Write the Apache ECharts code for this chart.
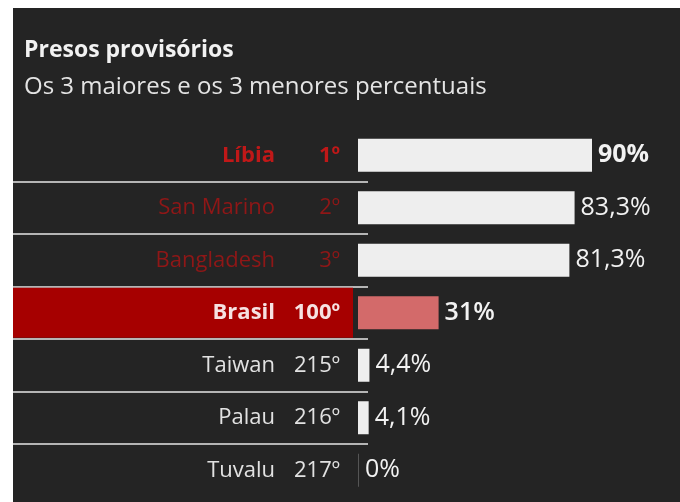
<!DOCTYPE html>
<html>
<head>
<meta charset="utf-8">
<script src="https://cdn.jsdelivr.net/npm/echarts@6/dist/echarts.min.js"></script>
<style>
  html, body { margin: 0; padding: 0; background: #fff; }
  #chart { width: 680px; height: 502px; }
</style>
</head>
<body>
<div id="chart"></div>
<script>
// dados
const paises = ['Líbia', 'San Marino', 'Bangladesh', 'Brasil', 'Taiwan', 'Palau', 'Tuvalu']
const posicoes = ['1º', '2º', '3º', '100º', '215º', '216º', '217º']
const percentuais = [90, 83.3, 81.3, 31, 4.4, 4.1, 0]
const destaque = 'Brasil'

const FONT = 'Open Sans'

// estilo de cada linha: maiores em vermelho, Brasil em destaque, menores em cinza
const estiloLinha = (i) => {
  if (i === 0) return { cor: '#c01818', peso: 'bold', valorPeso: 'bold' }
  if (i < 3) return { cor: '#8f1717', peso: 'normal', valorPeso: 'normal' }
  if (paises[i] === destaque) return { cor: '#f6e2e2', peso: 'bold', valorPeso: 600 }
  return { cor: '#e2e2e2', peso: 'normal', valorPeso: 'normal' }
}

const rich = {}
paises.forEach((p, i) => {
  const s = estiloLinha(i)
  rich['n' + i] = { color: s.cor, fontWeight: s.peso, fontSize: 22, fontFamily: FONT }
  rich['r' + i] = { color: s.cor, fontWeight: s.peso, fontSize: 22, fontFamily: FONT, width: 65, align: 'right' }
})

const fmt = (v) => String(v).replace('.', ',') + '%'

const barras = percentuais.map((v, i) => {
  const s = estiloLinha(i)
  let cor = '#eeeeee'
  if (paises[i] === destaque) cor = '#d36a6a'
  if (v === 0) cor = '#555555'
  return {
    value: v,
    itemStyle: { color: cor },
    label: { fontWeight: s.valorPeso }
  }
})

const faixa = paises.map(p => (p === destaque ? 1 : '-'))

const chart = echarts.init(document.getElementById('chart'))

const gridTop = 129
const gridHeight = 367.5

chart.setOption({
  backgroundColor: '#ffffff',
  animation: false,
  graphic: [
    {
      type: 'rect',
      z: -10,
      silent: true,
      shape: { x: 13, y: 8, width: 667, height: 494 },
      style: { fill: '#242424' }
    }
  ],
  title: {
    text: 'Presos provisórios',
    subtext: 'Os 3 maiores e os 3 menores percentuais',
    left: 19,
    top: 34,
    itemGap: 13,
    textStyle: { color: '#f2f2f2', fontSize: 23, fontWeight: 'bold', fontFamily: FONT },
    subtextStyle: { color: '#e4e4e4', fontSize: 24, fontFamily: FONT }
  },
  grid: [
    { left: 358, width: 260, top: gridTop, height: gridHeight },
    { left: 13, width: 355, top: gridTop, height: gridHeight },
    { left: 13, width: 340, top: gridTop, height: gridHeight }
  ],
  xAxis: [
    { gridIndex: 0, type: 'value', min: 0, max: 100, show: false },
    { gridIndex: 1, type: 'value', min: 0, max: 1, show: false },
    { gridIndex: 2, type: 'value', min: 0, max: 1, show: false }
  ],
  yAxis: [
    {
      gridIndex: 0,
      type: 'category',
      inverse: true,
      data: paises,
      z: 10,
      axisLine: { show: false },
      axisTick: { show: false },
      splitLine: { show: false },
      axisLabel: {
        margin: 18,
        formatter: (value, i) => `{n${i}|${value}}{r${i}|${posicoes[i]}}`,
        rich: rich
      }
    },
    {
      gridIndex: 1,
      type: 'category',
      inverse: true,
      data: paises,
      z: 0,
      axisLine: { show: false },
      axisTick: { show: false },
      axisLabel: { show: false },
      splitLine: {
        show: true,
        showMinLine: false,
        showMaxLine: false,
        lineStyle: { color: '#b5b5b5', width: 2 }
      }
    },
    {
      gridIndex: 2,
      type: 'category',
      inverse: true,
      data: paises,
      show: false
    }
  ],
  series: [
    {
      type: 'bar',
      xAxisIndex: 2,
      yAxisIndex: 2,
      data: faixa,
      barWidth: 50,
      silent: true,
      z: 1,
      itemStyle: { color: '#a60000' }
    },
    {
      type: 'bar',
      xAxisIndex: 0,
      yAxisIndex: 0,
      data: barras,
      barWidth: 33,
      barMinHeight: 1,
      z: 3,
      label: {
        show: true,
        position: 'right',
        distance: 6,
        color: '#f2f2f2',
        fontSize: 25,
        fontFamily: FONT,
        formatter: (p) => fmt(p.value)
      }
    }
  ]
})
</script>
</body>
</html>
